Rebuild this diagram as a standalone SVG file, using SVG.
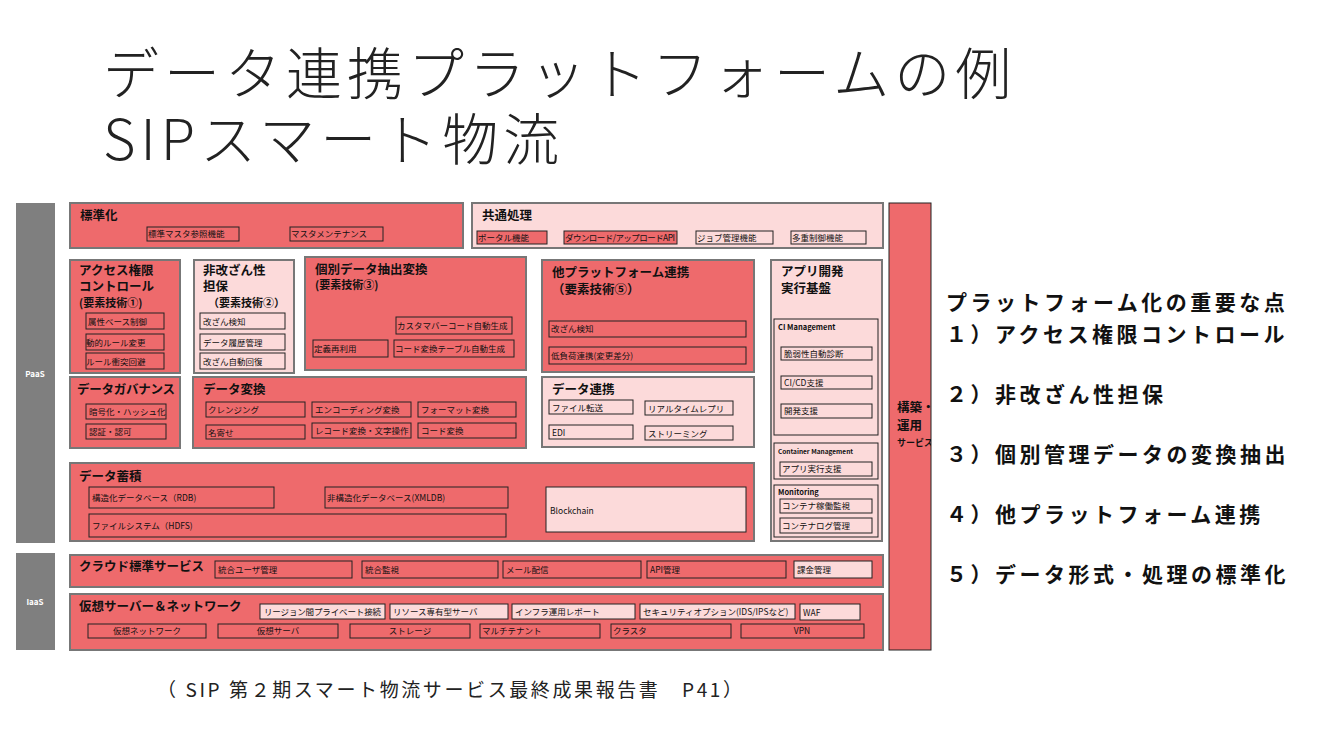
<svg xmlns="http://www.w3.org/2000/svg" width="1334" height="750" viewBox="0 0 1334 750">
<style>
.r{fill:#ee6a6c;stroke:#222;stroke-width:1}
.p{fill:#fcdada;stroke:#222;stroke-width:1}
.R{fill:#ee6a6c;stroke:#777;stroke-width:2}
.P{fill:#fcdada;stroke:#777;stroke-width:2}
.g{fill:#7f7f7f}
text{font-family:"Noto Sans CJK JP","Liberation Sans",sans-serif;fill:#111}
.h{font-size:12.5px;font-weight:bold}
.s{font-size:8.5px}
.t{font-size:56px;font-weight:300;fill:#222;letter-spacing:5px}
.k{font-size:21px;font-weight:bold;letter-spacing:3.5px}
</style>
<defs><clipPath id="cb"><rect x="889" y="203" width="42" height="447"/></clipPath></defs>
<text class="t" x="103" y="94">データ連携プラットフォームの例</text>
<text class="t" x="103" y="160">SIPスマート物流</text>
<g id="paas"><rect class="g" x="16" y="203" width="39" height="340"/><text x="35" y="377" font-size="8" font-weight="bold" text-anchor="middle" style="fill:#fff">PaaS</text></g>
<g id="iaas"><rect class="g" x="16" y="553" width="39" height="97"/><text x="35" y="605" font-size="8" font-weight="bold" text-anchor="middle" style="fill:#fff">IaaS</text></g>
<g id="hyojunka"><rect class="R" x="70" y="203" width="393" height="45"/><text class="h" x="80" y="220">標準化</text>
<rect class="r" x="147" y="227" width="92" height="14"/><text class="s" x="148" y="237">標準マスタ参照機能</text>
<rect class="r" x="290" y="227" width="93" height="14"/><text class="s" x="291" y="237">マスタメンテナンス</text></g>
<g id="kyotsu"><rect class="P" x="472" y="203" width="411" height="45"/><text class="h" x="482" y="220">共通処理</text>
<rect class="r" x="477" y="231" width="70" height="13"/><text class="s" x="478" y="241">ポータル機能</text>
<rect class="r" x="564" y="231" width="113" height="13"/><text class="s" x="565" y="241" textLength="110">ダウンロード/アップロードAPI</text>
<rect class="p" x="696" y="231" width="77" height="13"/><text class="s" x="697" y="241">ジョブ管理機能</text>
<rect class="p" x="791" y="231" width="75" height="13"/><text class="s" x="792" y="241">多重制御機能</text></g>
<g id="kouchiku"><rect class="r" x="889" y="203" width="42" height="447"/><g clip-path="url(#cb)"><text class="h" x="897" y="412">構築・</text><text class="h" x="897" y="430">運用</text><text x="897" y="446" font-size="9" font-weight="bold">サービス</text></g></g>
<g id="access"><rect class="R" x="70" y="260" width="110" height="113"/><text class="h" x="79" y="275">アクセス権限</text><text class="h" x="79" y="291">コントロール</text><text x="79" y="307" font-size="11" font-weight="bold">(要素技術①)</text>
<rect class="r" x="86" y="313" width="78" height="16"/><text class="s" x="88" y="325">属性ベース制御</text>
<rect class="r" x="86" y="334" width="78" height="16"/><text class="s" x="86" y="346">動的ルール変更</text>
<rect class="r" x="86" y="353" width="78" height="16"/><text class="s" x="86" y="365">ルール衝突回避</text></g>
<g id="hikaizan"><rect class="P" x="194" y="260" width="100" height="113"/><text class="h" x="203" y="275">非改ざん性</text><text class="h" x="203" y="291">担保</text><text x="208" y="307" font-size="11" font-weight="bold">（要素技術②）</text>
<rect class="p" x="200" y="313" width="85" height="16"/><text class="s" x="203" y="325">改ざん検知</text>
<rect class="p" x="200" y="334" width="85" height="16"/><text class="s" x="203" y="346">データ履歴管理</text>
<rect class="p" x="200" y="353" width="85" height="16"/><text class="s" x="203" y="365">改ざん自動回復</text></g>
<g id="kobetsu"><rect class="R" x="305" y="257" width="221" height="113"/><text class="h" x="315" y="274">個別データ抽出変換</text><text x="315" y="289" font-size="11" font-weight="bold">(要素技術③)</text>
<rect class="r" x="396" y="317" width="116" height="17"/><text class="s" x="397" y="329">カスタマバーコード自動生成</text>
<rect class="r" x="313" y="340" width="75" height="17"/><text class="s" x="314" y="352">定義再利用</text>
<rect class="r" x="394" y="340" width="120" height="17"/><text class="s" x="395" y="352">コード変換テーブル自動生成</text></g>
<g id="taplat"><rect class="R" x="542" y="260" width="212" height="112"/><text class="h" x="552" y="277">他プラットフォーム連携</text><text class="h" x="552" y="294">（要素技術⑤）</text>
<rect class="r" x="549" y="321" width="197" height="16"/><text class="s" x="551" y="332">改ざん検知</text>
<rect class="r" x="549" y="347" width="197" height="17"/><text class="s" x="551" y="359">低負荷連携(変更差分)</text></g>
<g id="appdev"><rect class="P" x="771" y="260" width="111" height="281"/><text class="h" x="781" y="276">アプリ開発</text><text class="h" x="781" y="293">実行基盤</text>
<rect class="p" x="774" y="319" width="104" height="116"/><text x="778" y="330" font-size="7.5" font-weight="bold">CI Management</text>
<rect class="p" x="781" y="347" width="91" height="13"/><text class="s" x="784" y="357">脆弱性自動診断</text>
<rect class="p" x="781" y="376" width="91" height="13"/><text class="s" x="784" y="386">CI/CD支援</text>
<rect class="p" x="781" y="404" width="91" height="14"/><text class="s" x="784" y="414">開発支援</text>
<rect class="p" x="774" y="443" width="104" height="36"/><text x="778" y="454" font-size="6.5" font-weight="bold">Container  Management</text>
<rect class="p" x="780" y="462" width="92" height="14"/><text class="s" x="782" y="472">アプリ実行支援</text>
<rect class="p" x="774" y="485" width="104" height="52"/><text x="778" y="495" font-size="7.5" font-weight="bold">Monitoring</text>
<rect class="p" x="780" y="499" width="92" height="14"/><text class="s" x="782" y="509">コンテナ稼働監視</text>
<rect class="p" x="780" y="518" width="92" height="15"/><text class="s" x="782" y="529">コンテナログ管理</text></g>
<g id="governance"><rect class="R" x="70" y="377" width="110" height="71"/><text class="h" x="77" y="394" textLength="98">データガバナンス</text>
<rect class="r" x="86" y="404" width="80" height="15"/><text class="s" x="89" y="415">暗号化・ハッシュ化</text>
<rect class="r" x="86" y="424" width="80" height="15"/><text class="s" x="89" y="435">認証・認可</text></g>
<g id="henkan"><rect class="R" x="193" y="377" width="333" height="71"/><text class="h" x="203" y="394">データ変換</text>
<rect class="r" x="206" y="402" width="99" height="15"/><text class="s" x="208" y="413">クレンジング</text>
<rect class="r" x="206" y="425" width="99" height="14"/><text class="s" x="208" y="436">名寄せ</text>
<rect class="r" x="312" y="402" width="99" height="15"/><text class="s" x="315" y="413">エンコーディング変換</text>
<rect class="r" x="312" y="423" width="99" height="15"/><text class="s" x="315" y="434">レコード変換・文字操作</text>
<rect class="r" x="418" y="402" width="98" height="15"/><text class="s" x="421" y="413">フォーマット変換</text>
<rect class="r" x="418" y="423" width="98" height="15"/><text class="s" x="421" y="434">コード変換</text></g>
<g id="renkei"><rect class="P" x="542" y="377" width="212" height="70"/><text class="h" x="552" y="394">データ連携</text>
<rect class="p" x="549" y="400" width="84" height="14"/><text class="s" x="552" y="411">ファイル転送</text>
<rect class="p" x="645" y="401" width="88" height="14"/><text class="s" x="648" y="412">リアルタイムレプリ</text>
<rect class="p" x="549" y="425" width="84" height="14"/><text class="s" x="552" y="436">EDI</text>
<rect class="p" x="645" y="426" width="88" height="14"/><text class="s" x="648" y="437">ストリーミング</text></g>
<g id="chikuseki"><rect class="R" x="70" y="463" width="684" height="78"/><text class="h" x="79" y="481">データ蓄積</text>
<rect class="r" x="89" y="487" width="185" height="21"/><text class="s" x="92" y="501">構造化データベース（RDB)</text>
<rect class="r" x="325" y="487" width="183" height="21"/><text class="s" x="327" y="501">非構造化データベース(XMLDB)</text>
<rect class="r" x="89" y="514" width="417" height="23"/><text class="s" x="92" y="529">ファイルシステム（HDFS)</text>
<rect class="p" x="546" y="487" width="200" height="45"/><text class="s" x="550" y="514">Blockchain</text></g>
<g id="cloud"><rect class="R" x="70" y="555" width="813" height="32"/><text class="h" x="79" y="571">クラウド標準サービス</text>
<rect class="r" x="215" y="561" width="137" height="17"/><text class="s" x="218" y="573">統合ユーザ管理</text>
<rect class="r" x="362" y="561" width="136" height="17"/><text class="s" x="365" y="573">統合監視</text>
<rect class="r" x="503" y="561" width="138" height="17"/><text class="s" x="506" y="573">メール配信</text>
<rect class="r" x="647" y="561" width="139" height="17"/><text class="s" x="650" y="573">API管理</text>
<rect class="p" x="794" y="561" width="78" height="17"/><text class="s" x="797" y="573">課金管理</text></g>
<g id="kaso"><rect class="R" x="70" y="594" width="813" height="56"/><text class="h" x="79" y="611">仮想サーバー＆ネットワーク</text>
<rect class="p" x="260" y="604" width="125" height="15"/><text class="s" x="264" y="615" textLength="117">リージョン間プライベート接続</text>
<rect class="p" x="390" y="604" width="118" height="15"/><text class="s" x="393" y="615">リソース専有型サーバ</text>
<rect class="p" x="512" y="604" width="123" height="15"/><text class="s" x="515" y="615">インフラ運用レポート</text>
<rect class="p" x="640" y="604" width="155" height="15"/><text class="s" x="643" y="615">セキュリティオプション(IDS/IPSなど)</text>
<rect class="p" x="800" y="604" width="60" height="16"/><text class="s" x="803" y="616">WAF</text>
<rect class="r" x="88" y="624" width="118" height="14"/><text class="s" x="147" y="634" text-anchor="middle">仮想ネットワーク</text>
<rect class="r" x="218" y="624" width="120" height="14"/><text class="s" x="278" y="634" text-anchor="middle">仮想サーバ</text>
<rect class="r" x="350" y="624" width="120" height="14"/><text class="s" x="410" y="634" text-anchor="middle">ストレージ</text>
<rect class="r" x="480" y="624" width="120" height="14"/><text class="s" x="482" y="634">マルチテナント</text>
<rect class="r" x="611" y="624" width="120" height="14"/><text class="s" x="613" y="634">クラスタ</text>
<rect class="r" x="741" y="624" width="123" height="14"/><text class="s" x="802" y="634" text-anchor="middle">VPN</text></g>
<g id="points">
<text class="k" x="946" y="310">プラットフォーム化の重要な点</text>
<text class="k" x="946" y="342">１）アクセス権限コントロール</text>
<text class="k" x="946" y="402">２）非改ざん性担保</text>
<text class="k" x="946" y="462">３）個別管理データの変換抽出</text>
<text class="k" x="946" y="522">４）他プラットフォーム連携</text>
<text class="k" x="946" y="582">５）データ形式・処理の標準化</text>
</g>
<text x="157" y="697" font-size="19" style="fill:#222;letter-spacing:2.6px">（ SIP 第２期スマート物流サービス最終成果報告書　P41）</text>
</svg>
